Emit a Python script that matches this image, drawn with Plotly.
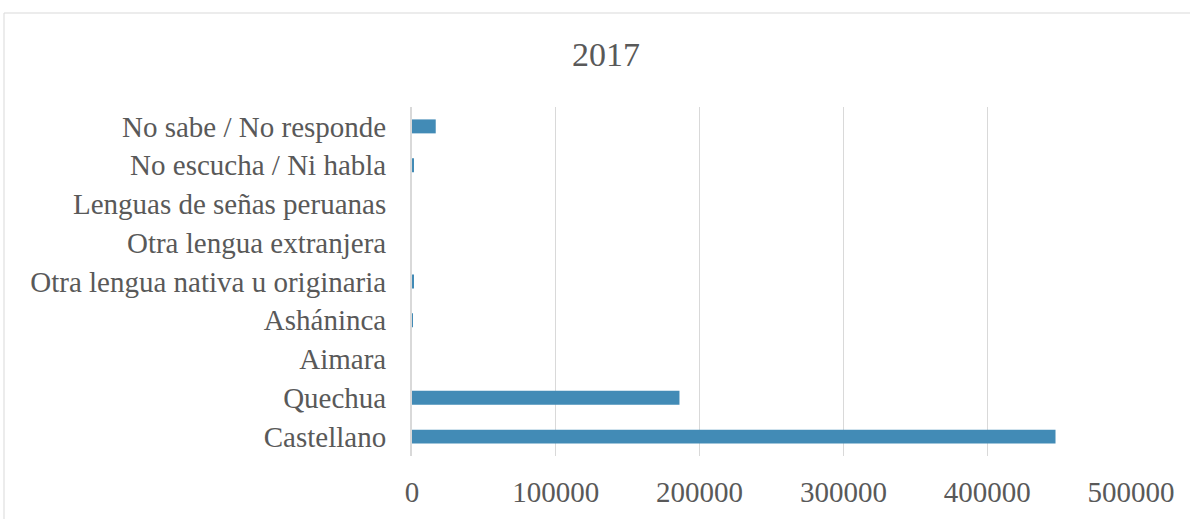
import plotly.graph_objects as go

# Lenguas maternas, 2017
categorias = [
    "Castellano",
    "Quechua",
    "Aimara",
    "Asháninca",
    "Otra lengua nativa u originaria",
    "Otra lengua extranjera",
    "Lenguas de señas peruanas",
    "No escucha / Ni habla",
    "No sabe / No responde",
]
valores = [447500, 186000, 0, 250, 1100, 0, 0, 1000, 16500]
ticks_x = [0, 100000, 200000, 300000, 400000, 500000]

FONT = "Liberation Serif, Times New Roman, serif"
GRIS = "#595959"
LINEA = "#d9d9d9"

fig = go.Figure(
    go.Bar(
        x=valores,
        y=categorias,
        orientation="h",
        marker=dict(color="#428BB6", line=dict(width=0)),
    )
)

# plot area 412..1131 x 107..456 px
L, R, T, B = 412, 59, 107, 63
W, H = 1190, 519
pw, ph = W - L - R, H - T - B

fig.update_layout(
    width=W,
    height=H,
    margin=dict(l=L, r=R, t=T, b=B),
    paper_bgcolor="white",
    plot_bgcolor="white",
    bargap=0.64,
    showlegend=False,
    font=dict(family=FONT, color=GRIS, size=29),
    title=dict(
        text="2017",
        x=606 / W,
        xanchor="center",
        y=1 - 54 / H,
        yanchor="middle",
        font=dict(family=FONT, size=34, color=GRIS),
    ),
    xaxis=dict(
        range=[0, 500000],
        tickvals=ticks_x,
        ticktext=[str(v) for v in ticks_x],
        showgrid=True,
        gridcolor=LINEA,
        gridwidth=1,
        zeroline=False,
        showline=False,
        ticks="",
        ticklabelstandoff=16,
        tickfont=dict(size=29, color=GRIS),
        fixedrange=True,
    ),
    yaxis=dict(
        showgrid=False,
        zeroline=False,
        showline=True,
        linecolor=LINEA,
        linewidth=2,
        ticks="",
        ticklabelstandoff=18,
        tickfont=dict(size=29, color=GRIS),
        fixedrange=True,
    ),
)

# outer chart border (light gray frame)
fig.add_shape(
    type="rect",
    xref="paper",
    yref="paper",
    x0=(4 - L) / pw,
    x1=(W + 20 - L) / pw,
    y0=(H - B - (H + 20)) / ph,
    y1=(H - B - 13) / ph,
    line=dict(color=LINEA, width=1),
    fillcolor="rgba(0,0,0,0)",
    layer="below",
)

fig.write_html(
    "out.html",
    config={"displayModeBar": False},
    post_script="document.body.style.margin='0';",
)
